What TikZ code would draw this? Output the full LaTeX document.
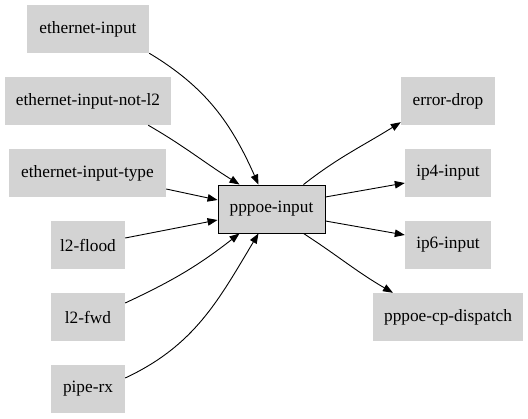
\documentclass[tikz,border=0pt]{standalone}
\usepackage{fontspec}
\setmainfont{Liberation Serif}
\usetikzlibrary{arrows.meta}
\definecolor{boxgray}{HTML}{D3D3D3}
\begin{document}
\begin{tikzpicture}[x=1pt,y=-1pt,
  gbox/.style={fill=boxgray,draw=none,minimum height=48pt,inner sep=0pt,font=\fontsize{17.3}{20}\selectfont},
  mainbox/.style={gbox,draw=black,line width=0.9pt},
  edge/.style={draw=black,line width=0.9pt,-{Triangle[length=10pt,width=7.5pt]}}]
\useasboundingbox (0,0) rectangle (528,419);
% left nodes
\node[gbox,minimum width=122pt] (ei) at (88,29) {ethernet-input};
\node[gbox,minimum width=166pt] (ein) at (88,101) {ethernet-input-not-l2};
\node[gbox,minimum width=157pt] (eit) at (87.5,173) {ethernet-input-type};
\node[gbox,minimum width=74pt] (lf) at (88,245) {l2-flood};
\node[gbox,minimum width=74pt] (lw) at (88,317) {l2-fwd};
\node[gbox,minimum width=74pt] (pr) at (88,389) {pipe-rx};
% centre
\node[mainbox,minimum width=107pt] (pp) at (271.5,209) {pppoe-input};
% right nodes
\node[gbox,minimum width=94pt] (ed) at (448,101) {error-drop};
\node[gbox,minimum width=86pt] (ip4) at (448,173) {ip4-input};
\node[gbox,minimum width=86pt] (ip6) at (448,245) {ip6-input};
\node[gbox,minimum width=150pt] (cp) at (448,317) {pppoe-cp-dispatch};
% incoming edges
\draw[edge] (ei.south east) to[out=-31,in=114] ([xshift=-13pt]pp.north);
\draw[edge] ([xshift=-23pt]ein.south east) to[out=-30,in=148] ([xshift=-32pt]pp.north);
\draw[edge] ([yshift=-16pt]eit.east) -- ([yshift=9pt]pp.west);
\draw[edge] ([yshift=7pt]lf.east) -- ([yshift=-11pt]pp.west);
\draw[edge] ([yshift=14pt]lw.east) to[out=25,in=-142] ([xshift=-32pt]pp.south);
\draw[edge] ([yshift=11pt]pr.east) to[out=25,in=-121] ([xshift=-13pt]pp.south);
% outgoing edges
\draw[edge] ([xshift=32pt]pp.north) to[out=38,in=-148] ([yshift=3pt]ed.south west);
\draw[edge] ([yshift=12pt]pp.east) -- ([yshift=-10pt]ip4.west);
\draw[edge] ([yshift=-12pt]pp.east) -- ([yshift=10pt]ip6.west);
\draw[edge] ([xshift=32pt]pp.south) to[out=-33,in=150] ([xshift=-55pt]cp.north);
\end{tikzpicture}
\end{document}
